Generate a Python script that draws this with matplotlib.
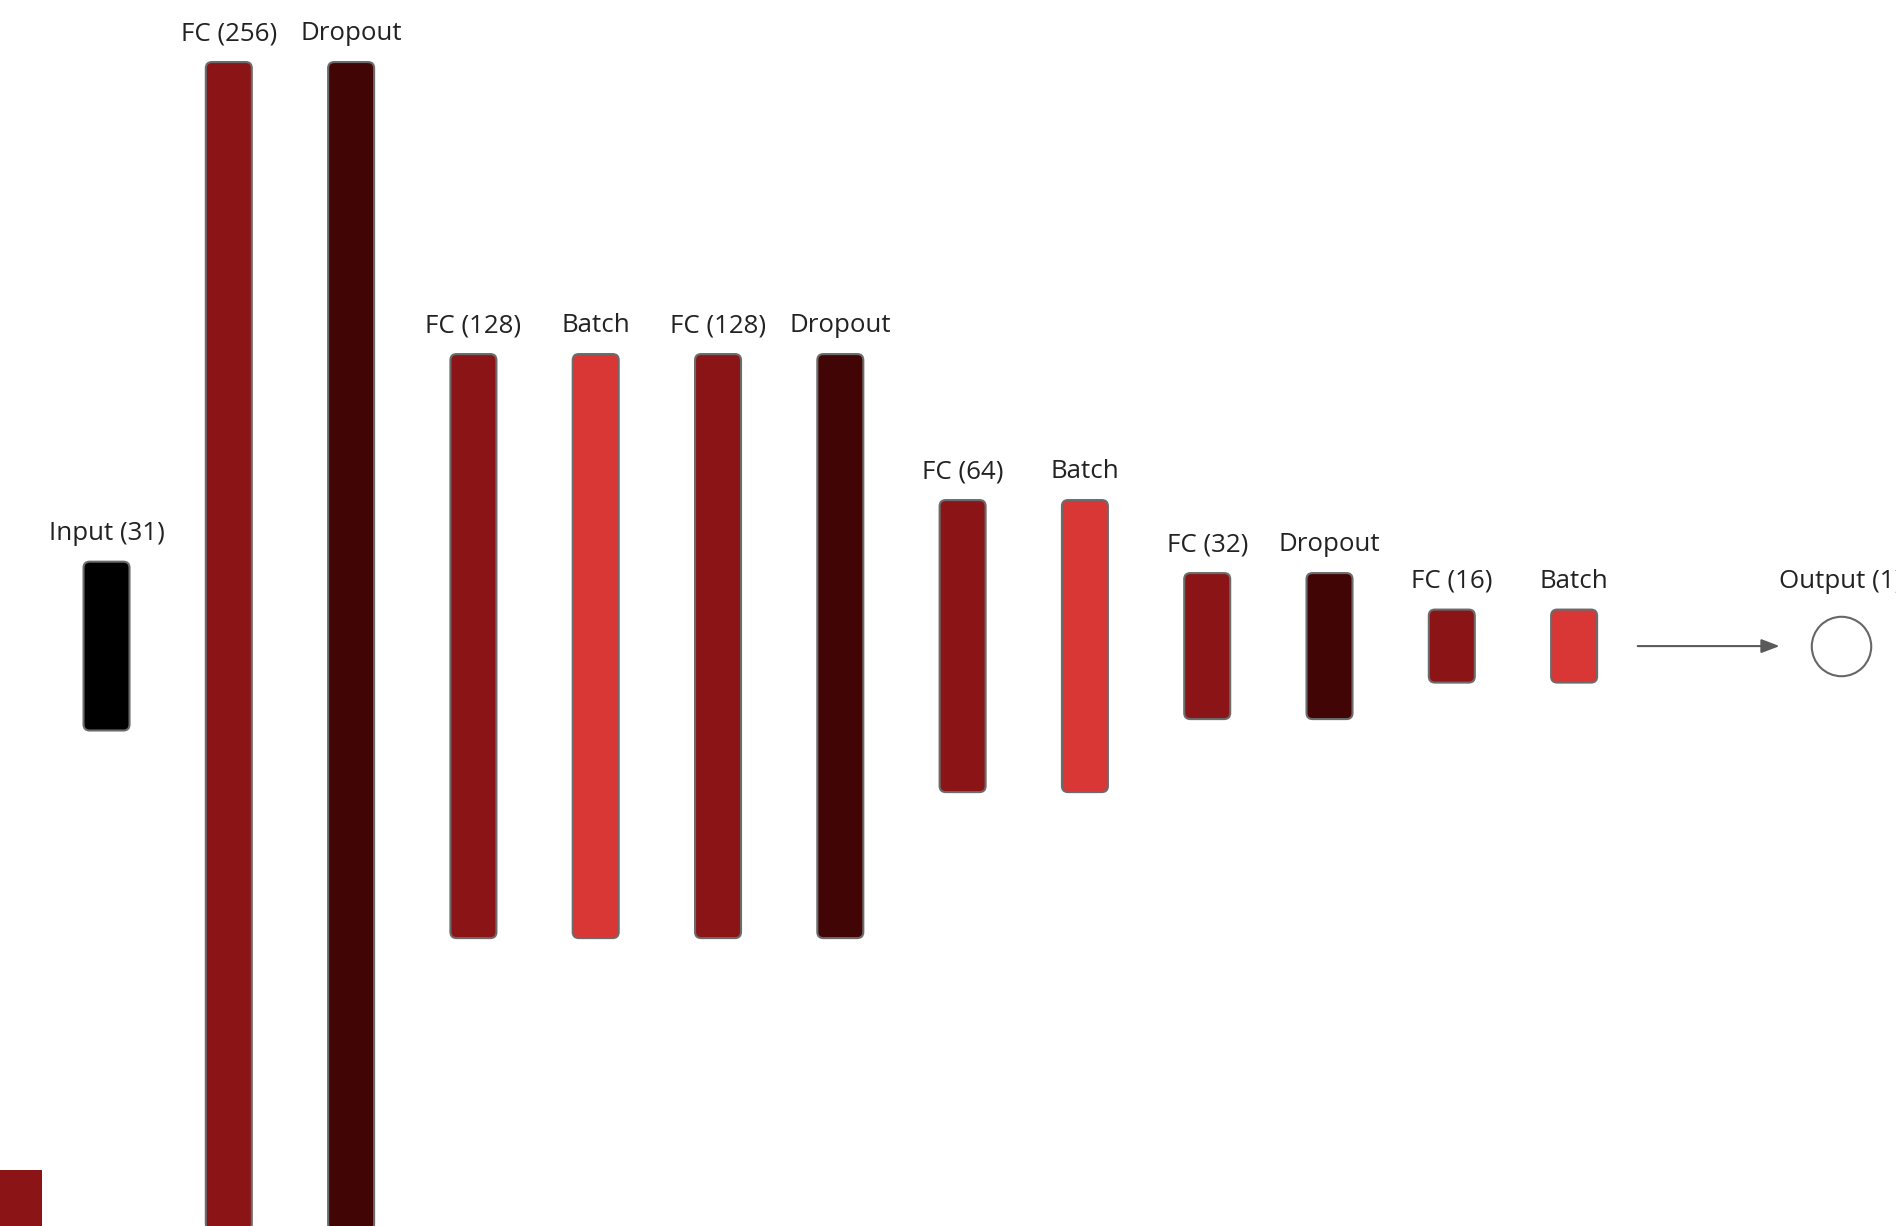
import matplotlib
matplotlib.use('Agg')
import matplotlib.pyplot as plt
from matplotlib.patches import FancyBboxPatch, Rectangle

plt.rcParams['font.family'] = ['Open Sans', 'DejaVu Sans']

# layers of the network, left to right
names = ['Input (31)', 'FC (256)', 'Dropout', 'FC (128)', 'Batch', 'FC (128)', 'Dropout',
         'FC (64)', 'Batch', 'FC (32)', 'Dropout', 'FC (16)', 'Batch']
kinds = ['input', 'fc', 'drop', 'fc', 'batch', 'fc', 'drop',
         'fc', 'batch', 'fc', 'drop', 'fc', 'batch']
sizes = [37, 256, 256, 128, 128, 128, 128, 64, 64, 32, 32, 16, 16]
colors = {'input': '#000000', 'fc': '#8b1516', 'drop': '#420505', 'batch': '#d93636'}
out_name = 'Output (1)'
out_pos = 14.18
out_size = 16

W, H = 1896, 1226
fig = plt.figure(figsize=(W / 100, H / 100), dpi=100)
ax = fig.add_axes([0, 0, 1, 1])
ax.set_xlim(-0.871, 14.632)
ax.set_ylim(-127.1, 141.6)
ax.axis('off')

bw = 0.376          # box width in layer units
aspect = 26.8       # y units per x unit in pixels terms
fs = 18.6
lab_off = 15.8
for i, (n, k, s) in enumerate(zip(names, kinds, sizes)):
    box = FancyBboxPatch((i - bw / 2, -s / 2), bw, s,
                         boxstyle='round,pad=0,rounding_size=0.05',
                         mutation_aspect=aspect,
                         facecolor=colors[k], edgecolor='#6b6b6b', linewidth=1.5)
    ax.add_patch(box)
    ax.annotate(n, (i, s / 2), xytext=(0, lab_off), textcoords='offset points',
                ha='center', va='baseline', fontsize=fs, color='#222222')

# arrow to output node
ax.annotate('', xy=(13.68, 0), xytext=(12.52, 0),
            arrowprops=dict(arrowstyle='-|>,head_length=1.1,head_width=0.42',
                            color='#5a5a5a', lw=1.5, shrinkA=0, shrinkB=0))
ax.plot([out_pos], [0], marker='o', markersize=42.8, markerfacecolor='white',
        markeredgecolor='#666666', markeredgewidth=1.5)
ax.annotate(out_name, (out_pos, out_size / 2), xytext=(0, lab_off), textcoords='offset points',
            ha='center', va='baseline', fontsize=fs, color='#222222',
            annotation_clip=False)

# stray legend swatch in the lower left corner
fig.patches.append(Rectangle((0, 0), 42 / W, 56 / H, transform=fig.transFigure,
                             facecolor=colors['fc'], edgecolor='none'))

fig.savefig('out.png', dpi=100, facecolor='white')
